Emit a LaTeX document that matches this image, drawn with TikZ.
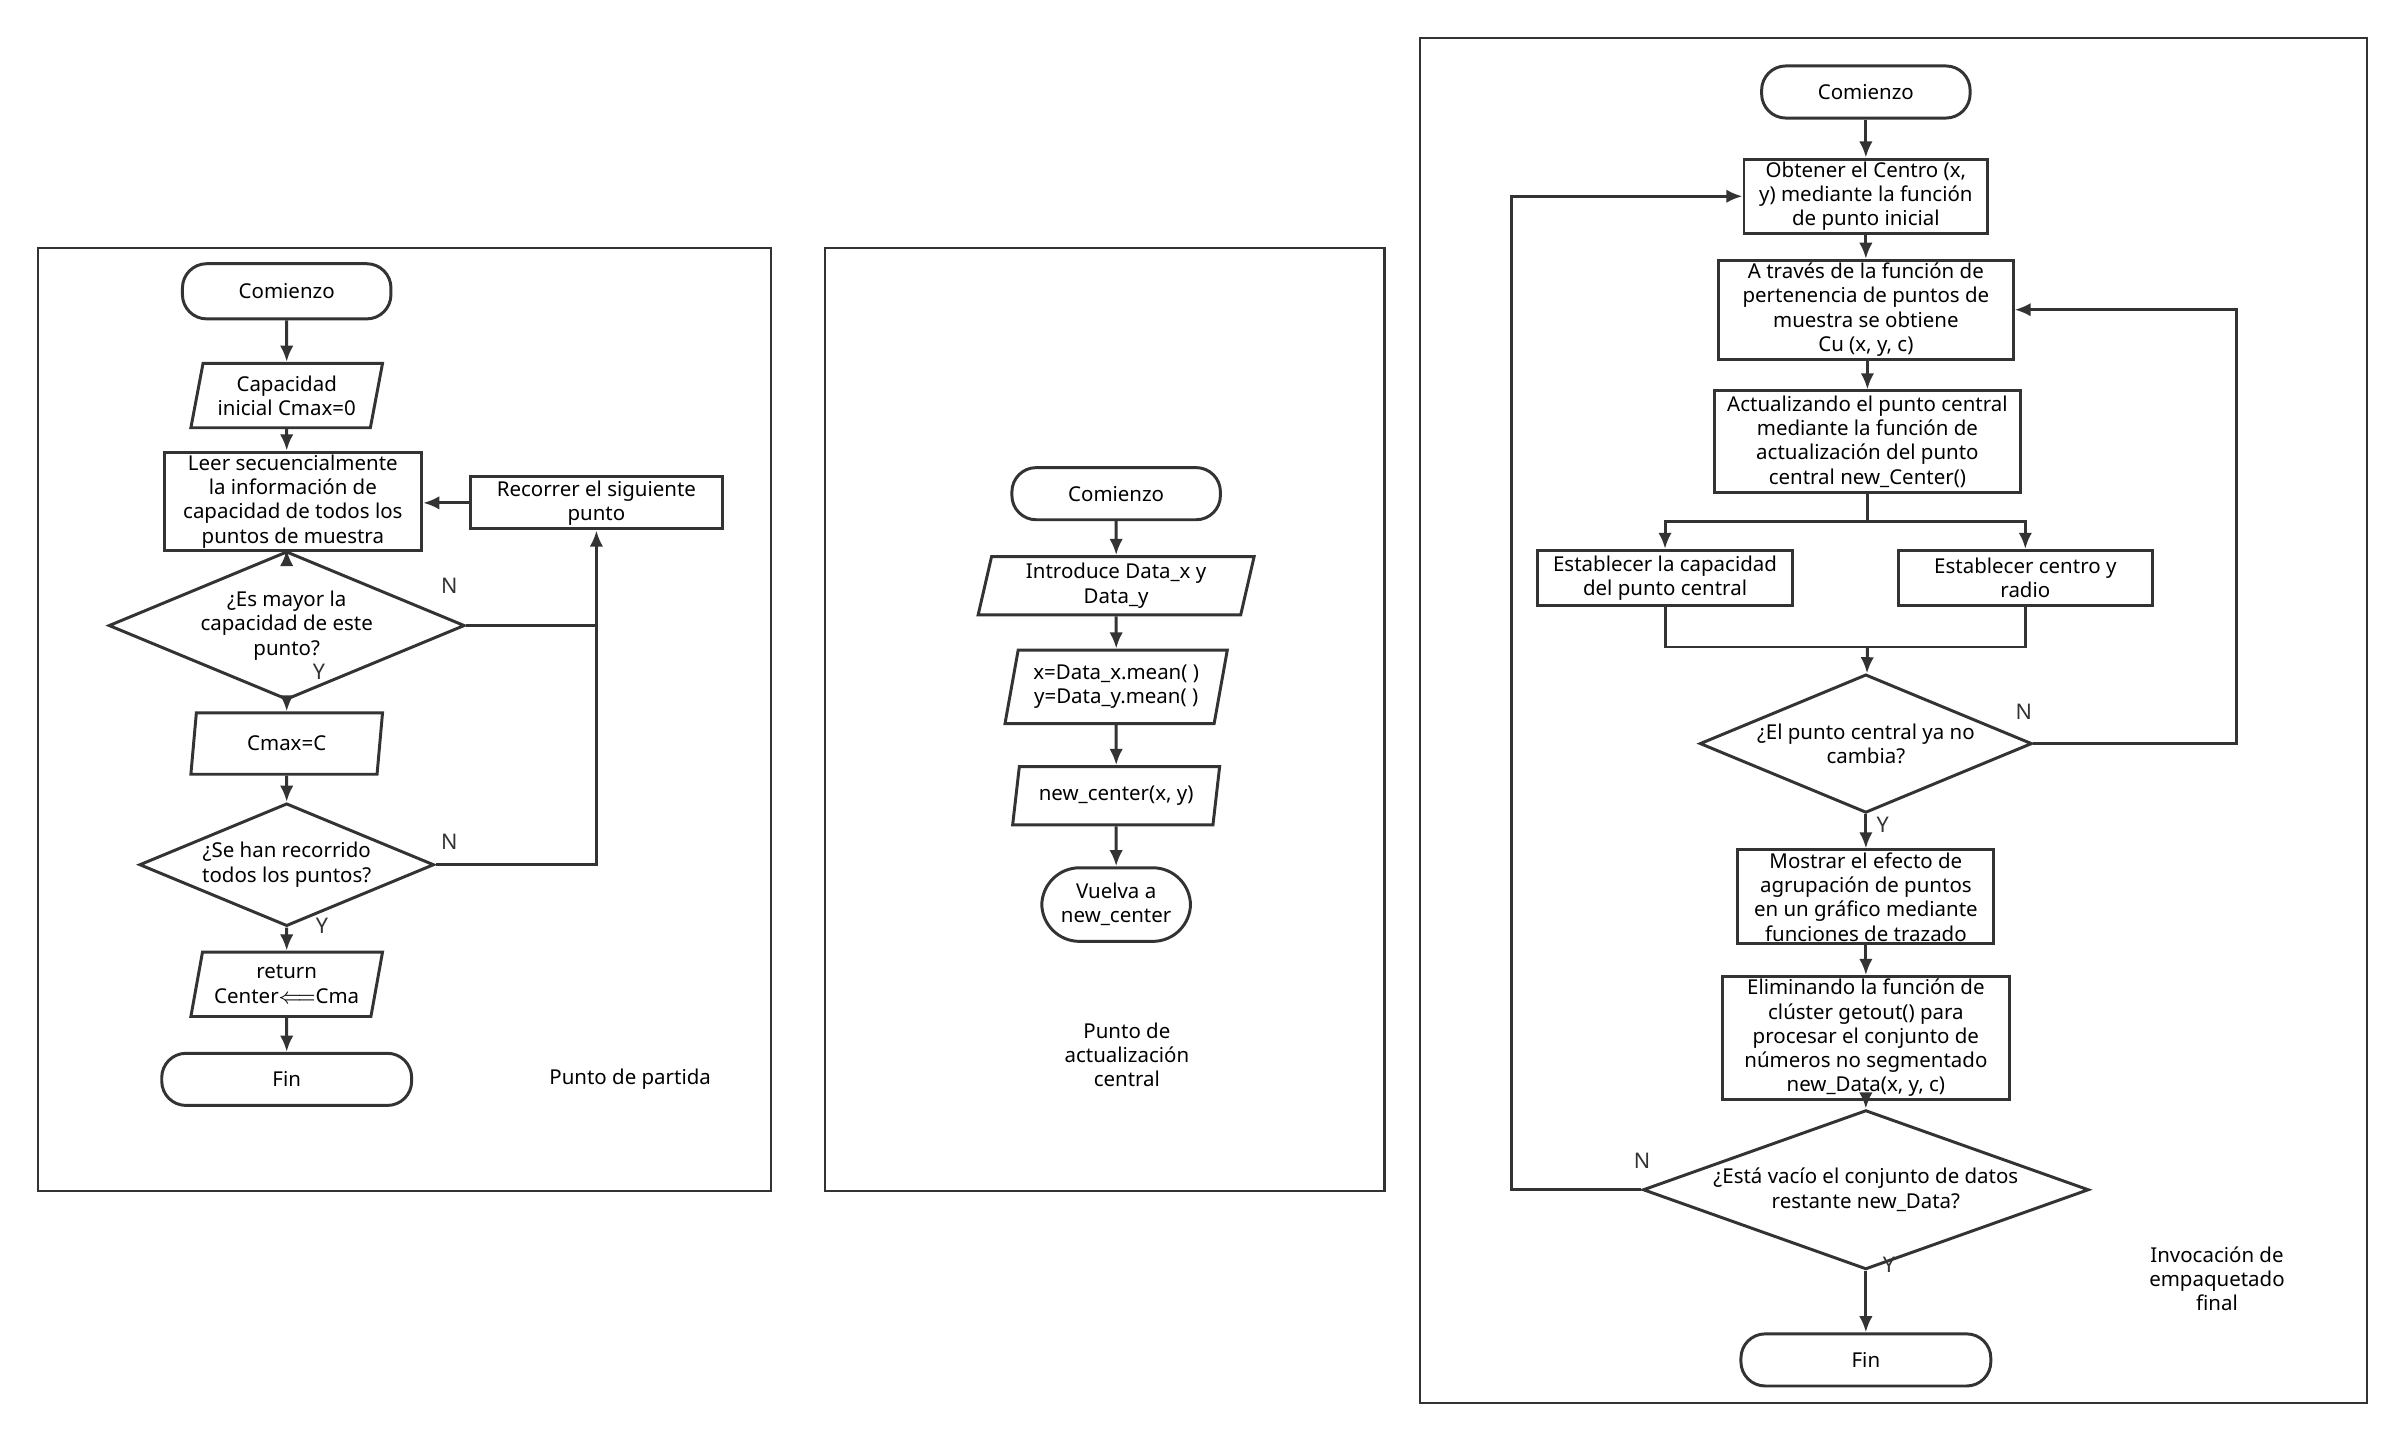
\documentclass[tikz,border=0pt]{standalone}
\usepackage{fontspec}
\setmainfont{Noto Sans}
\usetikzlibrary{positioning}
\usetikzlibrary{shapes.geometric}
\usetikzlibrary{arrows.meta}
\tikzset{
	base/.style={draw=black!80,line width=1.1pt,align=center,font=\fontsize{7.6}{9}\selectfont,inner sep=1pt},
	term/.style={base,rounded corners=9pt},
	proc/.style={base,rectangle},
	io/.style={base,trapezium,trapezium left angle=75,trapezium right angle=105,trapezium stretches body},
	dec/.style={base,diamond,aspect=2.4},
	flow/.style={draw=black!80,line width=1.1pt,-{Latex[length=6pt,width=5pt]}},
	link/.style={draw=black!80,line width=1.1pt},
	lab/.style={font=\fontsize{8}{9}\selectfont\bfseries,text=black!80},
	caption/.style={font=\fontsize{7.6}{9}\selectfont,align=center}
}
\begin{document}
\begin{tikzpicture}[x=0.02cm,y=-0.02cm]
	\useasboundingbox (0,0) rectangle (1568,940);
	%% panel 1
	\draw[link,line width=0.8pt] (25,162) rectangle (503,777);
	\node[term,minimum width=136*0.02cm,minimum height=36*0.02cm] (s1) at (187,190) {Comienzo};
	\node[io,minimum width=125*0.02cm,minimum height=42*0.02cm] (c1) at (187,258) {Capacidad\\inicial Cmax=0};
	\node[proc,minimum width=168*0.02cm,minimum height=59*0.02cm] (r1) at (191,327) {Leer secuencialmente\\la información de\\capacidad de todos los\\puntos de muestra};
	\node[proc,minimum width=164*0.02cm,minimum height=34*0.02cm] (n1) at (389,328) {Recorrer el siguiente\\punto};
	\node[dec,minimum width=160*0.02cm,minimum height=62*0.02cm] (d1) at (187,408) {¿Es mayor la\\capacidad de este\\punto?};
	\node[io,minimum width=125*0.02cm,minimum height=40*0.02cm] (m1) at (187,485) {Cmax=C};
	\node[dec,minimum width=160*0.02cm,minimum height=70*0.02cm] (d2) at (187,564) {¿Se han recorrido\\todos los puntos?};
	\node[io,minimum width=125*0.02cm,minimum height=42*0.02cm] (o1) at (187,642) {return\\Center$\Longleftarrow$Cma};
	\node[term,minimum width=163*0.02cm,minimum height=34*0.02cm] (f1) at (187,704) {Fin};
	\node[caption] (t1) at (411,704) {Punto de partida};
	\node[lab] at (293,382) {N};
	\node[lab] at (208,438) {Y};
	\node[lab] at (293,549) {N};
	\node[lab] at (210,604) {Y};
	\coordinate (k1) at (389,408);
	\coordinate (k2) at (389,564);
	% conexiones
	\draw[flow] (s1) -- (c1);
	\draw[flow] (c1) -- (c1|-r1.north);
	\draw[flow] (r1.south-|d1) -- (d1);
	\draw[flow] (d1) -- (m1);
	\draw[flow] (m1) -- (d2);
	\draw[flow] (d2) -- (o1);
	\draw[flow] (o1) -- (f1);
	\draw[flow] (d1.east) -- (k1) -- (n1.south);
	\draw[link] (d2.east) -- (k2) -- (k1);
	\draw[flow] (n1.west) -- (r1.east|-n1);
	%% panel 2
	\draw[link,line width=0.8pt] (538,162) rectangle (903,777);
	\node[term,minimum width=136*0.02cm,minimum height=34*0.02cm] (s2) at (728,322) {Comienzo};
	\node[io,minimum width=180*0.02cm,minimum height=38*0.02cm] (i2) at (728,382) {Introduce Data\_x y\\Data\_y};
	\node[io,minimum width=145*0.02cm,minimum height=48*0.02cm] (x2) at (728,448) {x=Data\_x.mean( )\\y=Data\_y.mean( )};
	\node[io,minimum width=135*0.02cm,minimum height=38*0.02cm] (c2) at (728,519) {new\_center(x, y)};
	\node[term,rounded corners=14pt,minimum width=97*0.02cm,minimum height=48*0.02cm] (v2) at (728,590) {Vuelva a\\new\_center};
	\node[caption] (t2) at (735,688) {Punto de\\actualización\\central};
	\draw[flow] (s2) -- (i2);
	\draw[flow] (i2) -- (x2);
	\draw[flow] (x2) -- (c2);
	\draw[flow] (c2) -- (v2);
	%% panel 3
	\draw[link,line width=0.8pt] (926,25) rectangle (1544,915);
	\node[term,minimum width=136*0.02cm,minimum height=34*0.02cm] (s3) at (1217,60) {Comienzo};
	\node[proc,minimum width=159*0.02cm,minimum height=45*0.02cm] (g3) at (1217,128) {Obtener el Centro (x,\\y) mediante la función\\de punto inicial};
	\node[proc,minimum width=192*0.02cm,minimum height=59*0.02cm] (a3) at (1217,202) {A través de la función de\\pertenencia de puntos de\\muestra se obtiene\\Cu (x, y, c)};
	\node[proc,minimum width=200*0.02cm,minimum height=66*0.02cm] (u3) at (1218,288) {Actualizando el punto central\\mediante la función de\\actualización del punto\\central new\_Center()};
	\node[proc,minimum width=166*0.02cm,minimum height=36*0.02cm] (e3) at (1086,377) {Establecer la capacidad\\del punto central};
	\node[proc,minimum width=166*0.02cm,minimum height=36*0.02cm] (r3) at (1321,377) {Establecer centro y\\radio};
	\node[dec,minimum width=160*0.02cm,minimum height=68*0.02cm] (d3) at (1217,485) {¿El punto central ya no\\cambia?};
	\node[proc,minimum width=167*0.02cm,minimum height=59*0.02cm] (m3) at (1217,585) {Mostrar el efecto de\\agrupación de puntos\\en un gráfico mediante\\funciones de trazado};
	\node[proc,minimum width=187*0.02cm,minimum height=78*0.02cm] (l3) at (1217,677) {Eliminando la función de\\clúster getout() para\\procesar el conjunto de\\números no segmentado\\new\_Data(x, y, c)};
	\node[dec,aspect=2.8,minimum width=215*0.02cm,minimum height=76*0.02cm] (q3) at (1217,776) {¿Está vacío el conjunto de datos\\restante new\_Data?};
	\node[term,minimum width=163*0.02cm,minimum height=34*0.02cm] (f3) at (1217,887) {Fin};
	\node[caption] (t3) at (1446,834) {Invocación de\\empaquetado\\final};
	\node[lab] at (1320,464) {N};
	\node[lab] at (1228,538) {Y};
	\node[lab] at (1071,757) {N};
	\node[lab] at (1232,825) {Y};
	\coordinate (p3) at (1218,340);
	\coordinate (j3) at (1218,422);
	\coordinate (w3) at (1459,485);
	\coordinate (z3) at (986,776);
	% conexiones
	\draw[flow] (s3) -- (g3);
	\draw[flow] (g3) -- (a3);
	\draw[flow] (a3.south-|u3) -- (u3);
	\draw[link] (u3) -- (p3);
	\draw[flow] (p3) -| (e3.north);
	\draw[flow] (p3) -| (r3.north);
	\draw[link] (e3.south) |- (j3) -| (r3.south);
	\draw[flow] (j3) -- (d3);
	\draw[flow] (d3.east) -- (w3) |- (a3.east);
	\draw[flow] (d3) -- (m3);
	\draw[flow] (m3) -- (l3);
	\draw[flow] (l3) -- (q3);
	\draw[flow] (q3) -- (f3);
	\draw[flow] (q3.west) -- (z3) |- (g3.west);
\end{tikzpicture}
\end{document}
